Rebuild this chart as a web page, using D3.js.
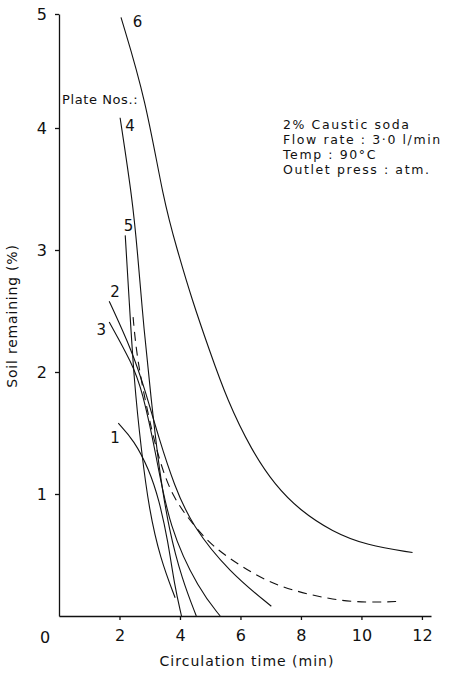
<!DOCTYPE html>
<html>
<head>
<meta charset="utf-8">
<script src="https://cdn.jsdelivr.net/npm/d3@7"></script>
<style>
  body { margin: 0; background: #fff; }
  svg text { font-family: "DejaVu Sans", sans-serif; fill: #111; }
  .axis path, .axis line { stroke: #111; stroke-width: 1.3px; }
  .curve { fill: none; stroke: #111; stroke-width: 1.1px; }
</style>
</head>
<body>
<div id="chart"></div>
<script>
// circulation time (min) vs soil remaining (%)
const plate1 = [[1.96, 1.58], [2.48, 1.44], [2.98, 1.20], [3.31, 0.95], [3.60, 0.62], [3.82, 0.25], [4.05, 0.0]];
const plate2 = [[1.66, 2.58], [2.42, 2.17], [2.85, 1.85], [3.31, 1.45], [3.81, 1.07], [4.40, 0.74], [5.63, 0.36], [7.02, 0.08]];
const plate3 = [[1.66, 2.41], [2.42, 2.07], [2.75, 1.85], [3.2, 1.34], [3.64, 0.72], [4.64, 0.21], [5.33, 0.0]];
const plate4 = [[2.02, 4.09], [2.43, 3.41], [2.59, 3.0], [2.81, 2.34], [3.05, 1.77], [3.31, 1.20], [3.64, 0.70], [4.07, 0.30], [4.54, 0.0]];
const plate5 = [[2.19, 3.12], [2.32, 2.59], [2.48, 1.93], [2.72, 1.36], [2.98, 0.87], [3.35, 0.47], [3.84, 0.15]];
const plate6 = [[2.05, 4.97], [2.87, 4.25], [3.45, 3.41], [3.91, 3.0], [4.40, 2.59], [4.97, 2.18], [5.56, 1.77],
  [6.36, 1.36], [7.15, 1.07], [7.95, 0.87], [9.04, 0.69], [10.17, 0.58], [11.69, 0.52]];
const dashed = [[2.45, 2.45], [2.58, 2.10], [2.98, 1.61], [3.31, 1.28], [3.74, 0.98], [4.40, 0.76], [5.07, 0.57],
  [6.06, 0.40], [7.19, 0.24], [9.04, 0.13], [10.17, 0.11], [11.32, 0.12]];

const xTicks = [2, 4, 6, 8, 10, 12];
const yTicks = [1, 2, 3, 4, 5];
const conditions = ["2% Caustic soda", "Flow rate : 3\u00b70 l/min", "Temp : 90\u00b0C", "Outlet press : atm."];
const plateLabels = [
  { name: "6", x: 2.6, y: 4.93 },
  { name: "4", x: 2.35, y: 4.02 },
  { name: "5", x: 2.3, y: 3.2 },
  { name: "2", x: 1.85, y: 2.66 },
  { name: "3", x: 1.4, y: 2.35 },
  { name: "1", x: 1.85, y: 1.46 }
];

const width = 451, height = 673;
const svg = d3.select("#chart").append("svg")
  .attr("width", width)
  .attr("height", height);

let x = d3.scaleLinear().domain([0, 12.3]).range([59, 431]);
// the printed y axis is a little squeezed between 4 and 5
let y = d3.scaleLinear().domain([0, 4, 5]).range([616, 128, 14]);

svg.append("g")
  .attr("class", "x axis")
  .attr("transform", `translate(0,${y(0)})`)
  .call(d3.axisBottom(x).tickValues(xTicks).tickSize(4).tickSizeOuter(0).tickPadding(10))
  .call(g => g.selectAll("text").style("font-size", "16px"));

svg.append("g")
  .attr("class", "y axis")
  .attr("transform", `translate(${x(0)},0)`)
  .call(d3.axisLeft(y).tickValues(yTicks).tickFormat(d3.format("d")).tickSize(4).tickSizeOuter(0).tickPadding(8))
  .call(g => g.selectAll("text").style("font-size", "16px"));

svg.selectAll(".axis .domain").attr("stroke-width", 1.5);

svg.append("text")
  .attr("x", 45).attr("y", 643)
  .attr("text-anchor", "middle")
  .style("font-size", "16px")
  .text("0");

svg.append("text")
  .attr("x", 247).attr("y", 666)
  .attr("text-anchor", "middle")
  .style("font-size", "14px")
  .style("letter-spacing", "1px")
  .text("Circulation time (min)");

svg.append("text")
  .attr("transform", "translate(17,316) rotate(-90)")
  .attr("text-anchor", "middle")
  .style("font-size", "14px")
  .style("letter-spacing", "0.8px")
  .text("Soil remaining (%)");

let line = d3.line()
  .x(d => x(d[0]))
  .y(d => y(d[1]))
  .curve(d3.curveBasis);

const solid = [plate1, plate2, plate3, plate4, plate5, plate6];
svg.append("g").selectAll("path")
  .data(solid).enter()
  .append("path")
  .attr("class", "curve")
  .attr("d", line);

svg.append("path")
  .datum(dashed)
  .attr("class", "curve")
  .attr("stroke-dasharray", "9,6")
  .attr("d", line);

svg.append("g").selectAll("text")
  .data(plateLabels).enter()
  .append("text")
  .attr("x", d => x(d.x))
  .attr("y", d => y(d.y))
  .attr("dy", "0.35em")
  .attr("text-anchor", "middle")
  .style("font-size", "15px")
  .text(d => d.name);

svg.append("text")
  .attr("x", 62).attr("y", 104)
  .style("font-size", "13px")
  .style("letter-spacing", "0.6px")
  .text("Plate Nos.:");

svg.append("g").selectAll("text")
  .data(conditions).enter()
  .append("text")
  .attr("x", 283)
  .attr("y", (d, i) => 129 + i * 15)
  .style("font-size", "12.5px")
  .style("letter-spacing", "1.6px")
  .text(d => d);
</script>
</body>
</html>
